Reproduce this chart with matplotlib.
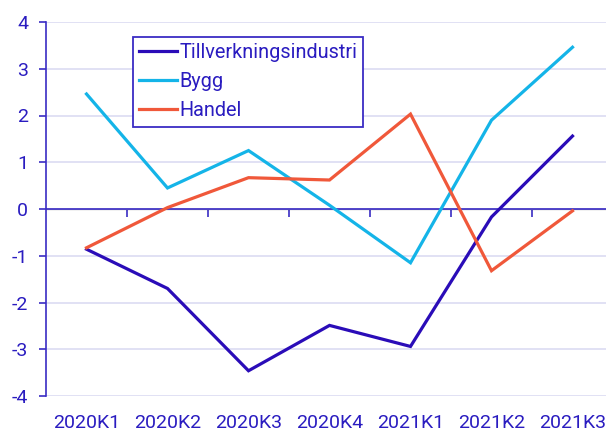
import numpy as np
import matplotlib.pyplot as plt

quarters = ['2020K1', '2020K2', '2020K3', '2020K4', '2021K1', '2021K2', '2021K3']
tillverkning = [-0.86, -1.70, -3.46, -2.49, -2.94, -0.17, 1.56]
bygg = [2.46, 0.45, 1.25, 0.08, -1.15, 1.90, 3.46]
handel = [-0.83, 0.03, 0.67, 0.62, 2.03, -1.32, -0.04]

series_names = ['Tillverkningsindustri', 'Bygg', 'Handel']
series_colors = ['#2A0CB8', '#14B4E8', '#F0583A']

text_color = '#2A1CC0'
axis_color = '#3A2CC4'
grid_color = '#DCDCF2'

plt.rcParams['font.family'] = ['Roboto', 'DejaVu Sans']
plt.rcParams['axes.unicode_minus'] = False

fig = plt.figure(figsize=(6.06, 4.32), dpi=100)
ax = fig.add_axes([46 / 606, 1 - 396 / 432, 567 / 606, 374 / 432])

x = np.arange(len(quarters))
for vals, name, col in zip([tillverkning, bygg, handel], series_names, series_colors):
    ax.plot(x, vals, color=col, lw=2.3, label=name, solid_joinstyle='miter', zorder=3)

ax.set_xlim(-0.5, len(quarters) - 0.5)
ax.set_ylim(-4, 4)
ax.set_yticks(range(-4, 5))
ax.grid(axis='y', color=grid_color, lw=1.2)
ax.set_axisbelow(True)

for s in ['top', 'right', 'bottom']:
    ax.spines[s].set_visible(False)
ax.spines['left'].set_color(axis_color)
ax.spines['left'].set_linewidth(1.2)

ax.axhline(0, color=axis_color, lw=1.2, zorder=2)

ax.tick_params(axis='y', colors=axis_color, labelcolor=text_color, labelsize=14,
               length=5, width=1.2, pad=8)
ax.set_xticks(x)
ax.set_xticklabels(quarters)
ax.tick_params(axis='x', length=0, labelcolor=text_color, labelsize=14, pad=13)

# tick marks between categories on the zero line
sec = ax.secondary_xaxis(0.5)
sec.set_xticks(x[:-1] + 0.5)
sec.set_xticklabels([])
sec.spines['bottom'].set_visible(False)
sec.tick_params(axis='x', direction='in', length=6, width=1.2, colors=axis_color)

leg = ax.legend(loc='upper left', bbox_to_anchor=(133 / 606, 1 - 37 / 432),
                bbox_transform=fig.transFigure, borderaxespad=0, fancybox=False,
                framealpha=1, edgecolor=axis_color, fontsize=14.3, handlelength=1.9,
                handletextpad=0.1, labelspacing=0.5, borderpad=0.32)
leg.get_frame().set_linewidth(1.3)
for t in leg.get_texts():
    t.set_color(text_color)

fig.savefig('out.png', dpi=100)
